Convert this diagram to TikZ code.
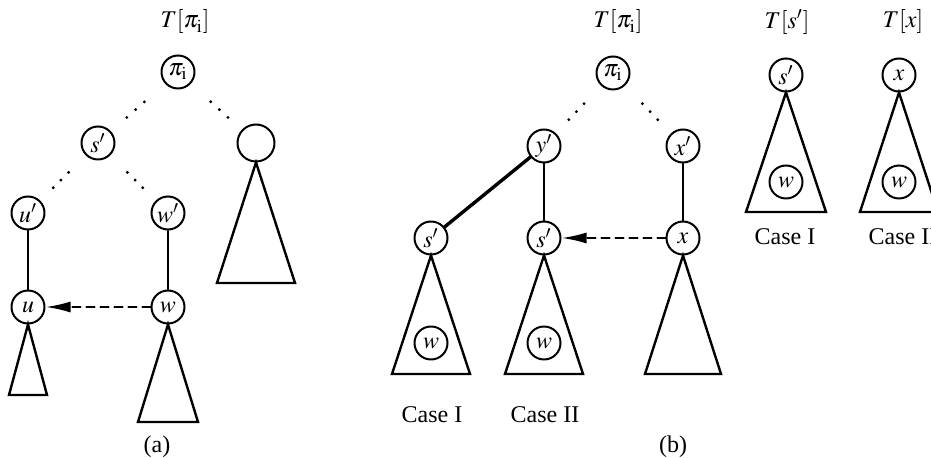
\documentclass[tikz,border=0pt]{standalone}
\usepackage{mathptmx}
\usepackage{fontspec}
\setmainfont{Liberation Serif}
\usetikzlibrary{arrows.meta,calc}
\tikzset{
  vtx/.style={circle,draw,line width=1pt,minimum size=16.5pt,inner sep=0pt},
  edge/.style={line width=0.9pt},
  thickedge/.style={line width=1.7pt},
  tri/.style={line width=1.2pt,line join=miter},
  ptr/.style={line width=1.1pt,dash pattern=on 4pt off 3pt,-{Latex[length=12.5pt,width=5.5pt]}},
}
% dotted path between two nodes
\newcommand{\dotpath}[2]{\foreach \t in {0.42,0.53,0.64}{\fill ($(#1)!\t!(#2)$) circle(0.8pt);}}
% subtree triangle below a node: node, half width, base y
\newcommand{\subtree}[3]{\draw[tri] (#1.south) -- ([xshift=-#2*0.5pt]#1.center |- 0,#3) -- ([xshift=#2*0.5pt]#1.center |- 0,#3) -- cycle;}
\begin{document}
\begin{tikzpicture}[x=0.5pt, y=-0.5pt, font=\fontsize{12}{14}\selectfont, line join=round, line cap=round]
  \useasboundingbox (0,0) rectangle (931,458);
  \clip (0,0) rectangle (931,458);
  % (a)
  \node (lblA) at (185,22) {$T[\pi_{\mathrm{i}}]$};
  \node[vtx] (pA) at (178,72) {$\pi_{\mathrm{i}}$};
  \node[vtx] (sA) at (98,143) {$s'$};
  \node[vtx, minimum size=18.5pt] (eA) at (256,143) {};
  \node[vtx] (upA) at (28,213) {$u'$};
  \node[vtx] (wpA) at (168,213) {$w'$};
  \node[vtx] (uA) at (28,307) {$u$};
  \node[vtx] (wA) at (168,307) {$w$};
  \dotpath{pA}{sA}
  \dotpath{pA}{eA}
  \dotpath{sA}{upA}
  \dotpath{sA}{wpA}
  \draw[edge] (upA) -- (uA);
  \draw[edge] (wpA) -- (wA);
  \draw[ptr] (wA) -- (uA);
  \subtree{eA}{39}{283}
  \subtree{uA}{19}{395}
  \subtree{wA}{30}{422}
  \node (capA) at (157,447) {(a)};
  % (b)
  \node (lblB) at (618,22) {$T[\pi_{\mathrm{i}}]$};
  \node[vtx] (pB) at (613,73) {$\pi_{\mathrm{i}}$};
  \node[vtx] (ypB) at (544,146) {$y'$};
  \node[vtx] (xpB) at (683,146) {$x'$};
  \node[vtx] (s1) at (431,238) {$s'$};
  \node[vtx] (s2) at (544,238) {$s'$};
  \node[vtx] (xB) at (683,238) {$x$};
  \dotpath{pB}{ypB}
  \dotpath{pB}{xpB}
  \draw[thickedge] (ypB) -- (s1);
  \draw[edge] (ypB) -- (s2);
  \draw[edge] (xpB) -- (xB);
  \draw[ptr] (xB) -- (s2);
  \subtree{s1}{39}{374}
  \subtree{s2}{39}{374}
  \subtree{xB}{38}{374}
  \node[vtx] (w1) at (431,343) {$w$};
  \node[vtx] (w2) at (544,343) {$w$};
  \node (case1) at (432,415) {Case I};
  \node (case2) at (545,415) {Case II};
  \node (capB) at (673,447) {(b)};
  % T[s'] and T[x]
  \node (lblS) at (787,22) {$T[s']$};
  \node (lblX) at (903,22) {$T[x]$};
  \node[vtx] (sR) at (786,75) {$s'$};
  \node[vtx] (xR) at (899,75) {$x$};
  \subtree{sR}{40}{212}
  \subtree{xR}{39}{212}
  \node[vtx] (wR1) at (786,182) {$w$};
  \node[vtx] (wR2) at (899,182) {$w$};
  \node (case3) at (785,237) {Case I};
  \node (case4) at (903,237) {Case II};
\end{tikzpicture}
\end{document}
